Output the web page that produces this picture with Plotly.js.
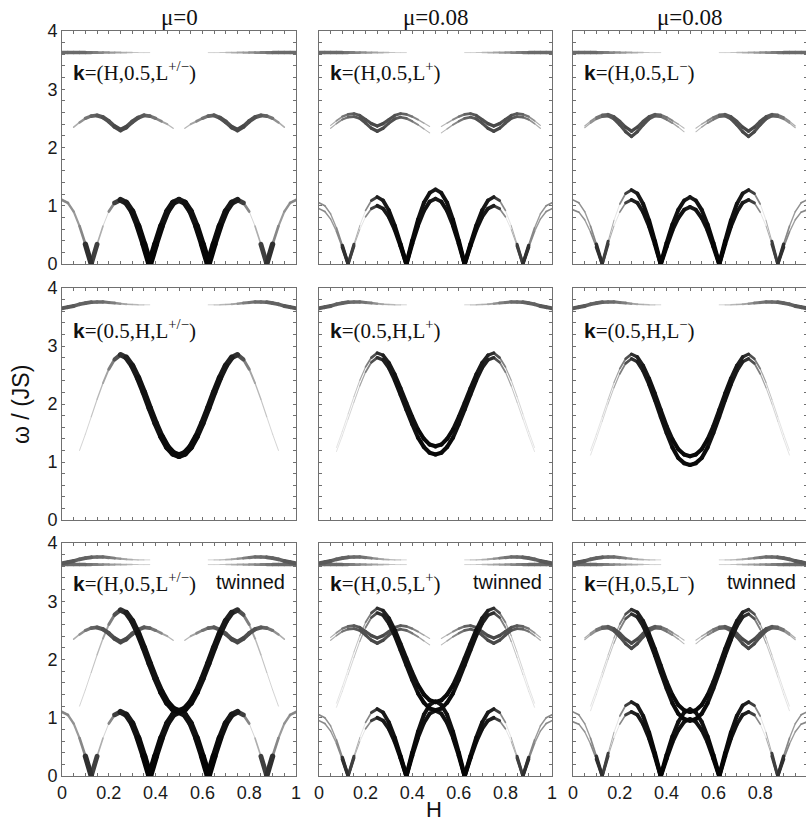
<!DOCTYPE html>
<html><head><meta charset="utf-8">
<script src="https://cdn.plot.ly/plotly-3.0.1.min.js"></script>
<style>
html,body{margin:0;padding:0;background:#fff;overflow:hidden;}
#chart{width:808px;height:827px;}
.js-line{stroke-linecap:round;stroke-linejoin:round;}
</style></head><body><div id="chart"></div><script>
// ---- data ----
const H = [0,0.025,0.05,0.075,0.1,0.125,0.15,0.175,0.2,0.225,0.25,0.275,0.3,0.325,0.35,0.375,0.4,0.425,0.45,0.475,0.5,0.525,0.55,0.575,0.6,0.625,0.65,0.675,0.7,0.725,0.75,0.775,0.8,0.825,0.85,0.875,0.9,0.925,0.95,0.975,1];

// k=(H,0.5,L) : top flat band
const wBand = [3.63,3.63,3.63,3.63,3.63,3.63,3.63,3.63,3.63,3.63,3.63,3.63,3.63,3.63,3.63,3.63,null,null,null,null,null,null,null,null,null,3.63,3.63,3.63,3.63,3.63,3.63,3.63,3.63,3.63,3.63,3.63,3.63,3.63,3.63,3.63,3.63];
const iBand = [0.45,0.45,0.45,0.43,0.41,0.38,0.35,0.31,0.27,0.23,0.18,0.14,0.1,0.07,0.04,0.02,0,0,0,0,0,0,0,0,0,0.02,0.04,0.07,0.1,0.14,0.18,0.23,0.27,0.31,0.35,0.38,0.41,0.43,0.45,0.45,0.45];
// middle wave
const wWave0 = [null,null,2.35,2.43,2.50,2.54,2.55,2.52,2.45,2.36,2.30,2.35,2.44,2.51,2.55,2.54,2.50,2.45,2.40,2.33,null,2.33,2.40,2.45,2.50,2.54,2.55,2.51,2.44,2.35,2.30,2.36,2.45,2.52,2.55,2.54,2.50,2.43,2.35,null,null];
const wWaveAp = [null,null,2.38,2.46,2.53,2.57,2.58,2.55,2.48,2.41,2.37,2.41,2.48,2.55,2.58,2.57,2.53,2.48,2.42,2.36,null,2.36,2.42,2.48,2.53,2.57,2.58,2.55,2.48,2.41,2.37,2.41,2.48,2.55,2.58,2.57,2.53,2.46,2.38,null,null];
const wWaveBp = [null,null,2.33,2.41,2.48,2.52,2.53,2.50,2.42,2.33,2.28,2.33,2.42,2.49,2.52,2.50,2.45,2.39,2.32,2.25,null,2.25,2.32,2.39,2.45,2.50,2.52,2.49,2.42,2.33,2.28,2.33,2.42,2.50,2.53,2.52,2.48,2.41,2.33,null,null];
const wWaveAm = [null,null,2.37,2.45,2.52,2.56,2.57,2.53,2.45,2.35,2.28,2.35,2.45,2.53,2.57,2.56,2.52,2.46,2.40,2.33,null,2.33,2.40,2.46,2.52,2.56,2.57,2.53,2.45,2.35,2.28,2.35,2.45,2.53,2.57,2.56,2.52,2.45,2.37,null,null];
const wWaveBm = [null,null,2.34,2.42,2.49,2.53,2.54,2.49,2.39,2.27,2.19,2.27,2.39,2.49,2.54,2.53,2.48,2.42,2.35,2.27,null,2.27,2.35,2.42,2.48,2.53,2.54,2.49,2.39,2.27,2.19,2.27,2.39,2.49,2.54,2.53,2.49,2.42,2.34,null,null];
const iWave = [0,0,0.08,0.2,0.35,0.45,0.52,0.55,0.57,0.58,0.6,0.58,0.57,0.55,0.52,0.45,0.35,0.25,0.15,0.06,0,0.06,0.15,0.25,0.35,0.45,0.52,0.55,0.57,0.58,0.6,0.58,0.57,0.55,0.52,0.45,0.35,0.2,0.08,0,0];
// low branch
const wLow0 = [1.10,1.05,0.90,0.65,0.34,0.00,0.34,0.65,0.90,1.05,1.10,1.05,0.90,0.65,0.34,0.00,0.34,0.65,0.90,1.05,1.10,1.05,0.90,0.65,0.34,0.00,0.34,0.65,0.90,1.05,1.10,1.05,0.90,0.65,0.34,0.00,0.34,0.65,0.90,1.05,1.10];
const wLowAp = [1.05,1.0,0.86,0.62,0.32,0.0,0.34,0.66,0.92,1.09,1.15,1.09,0.92,0.66,0.34,0.0,0.40,0.76,1.05,1.22,1.28,1.22,1.05,0.76,0.40,0.0,0.34,0.66,0.92,1.09,1.15,1.09,0.92,0.66,0.34,0.0,0.32,0.62,0.86,1.0,1.05];
const wLowBp = [0.95,0.9,0.77,0.56,0.29,0.0,0.31,0.59,0.81,0.95,1.0,0.95,0.81,0.59,0.31,0.0,0.35,0.66,0.91,1.07,1.12,1.07,0.91,0.66,0.35,0.0,0.31,0.59,0.81,0.95,1.0,0.95,0.81,0.59,0.31,0.0,0.29,0.56,0.77,0.9,0.95];
const wLowAm = [1.10,1.05,0.9,0.65,0.34,0.0,0.39,0.75,1.03,1.21,1.27,1.21,1.03,0.75,0.39,0.0,0.36,0.68,0.93,1.09,1.15,1.09,0.93,0.68,0.36,0.0,0.39,0.75,1.03,1.21,1.27,1.21,1.03,0.75,0.39,0.0,0.34,0.65,0.9,1.05,1.10];
const wLowBm = [0.93,0.89,0.76,0.55,0.29,0.0,0.34,0.65,0.89,1.05,1.1,1.05,0.89,0.65,0.34,0.0,0.30,0.58,0.79,0.93,0.98,0.93,0.79,0.58,0.30,0.0,0.34,0.65,0.89,1.05,1.1,1.05,0.89,0.65,0.34,0.0,0.29,0.55,0.76,0.89,0.93];
const iLow = [0.3,0.3,0.28,0.22,0.4,1,0.3,0,0.1,0.5,0.75,0.82,0.86,0.9,0.95,1,0.95,0.9,0.87,0.85,0.84,0.85,0.87,0.9,0.95,1,0.95,0.9,0.86,0.82,0.75,0.5,0.1,0,0.3,1,0.4,0.22,0.28,0.3,0.3];

// k=(0.5,H,L) : top wavy band
const wMband = [3.65,3.67,3.69,3.72,3.74,3.755,3.76,3.76,3.75,3.74,3.73,3.72,3.715,3.71,3.71,3.71,null,null,null,null,null,null,null,null,null,3.71,3.71,3.71,3.715,3.72,3.73,3.74,3.75,3.76,3.76,3.755,3.74,3.72,3.69,3.67,3.65];
const iMband = [0.5,0.5,0.5,0.49,0.48,0.46,0.44,0.41,0.37,0.31,0.24,0.17,0.12,0.08,0.05,0.02,0,0,0,0,0,0,0,0,0,0.02,0.05,0.08,0.12,0.17,0.24,0.31,0.37,0.41,0.44,0.46,0.48,0.49,0.5,0.5,0.5];
// main branch
const wMain0 = [null,null,null,1.2,1.48,1.78,2.08,2.36,2.6,2.77,2.85,2.8,2.66,2.45,2.2,1.93,1.67,1.44,1.26,1.15,1.11,1.15,1.26,1.44,1.67,1.93,2.2,2.45,2.66,2.8,2.85,2.77,2.6,2.36,2.08,1.78,1.48,1.2,null,null,null];
const wMainAp = [null,null,null,1.25,1.53,1.83,2.13,2.41,2.64,2.8,2.88,2.84,2.71,2.51,2.27,2.02,1.78,1.56,1.40,1.30,1.27,1.30,1.40,1.56,1.78,2.02,2.27,2.51,2.71,2.84,2.88,2.8,2.64,2.41,2.13,1.83,1.53,1.25,null,null,null];
const wMainBp = [null,null,null,1.18,1.45,1.74,2.03,2.31,2.55,2.72,2.8,2.76,2.62,2.41,2.16,1.90,1.65,1.42,1.26,1.16,1.13,1.16,1.26,1.42,1.65,1.90,2.16,2.41,2.62,2.76,2.8,2.72,2.55,2.31,2.03,1.74,1.45,1.18,null,null,null];
const wMainAm = [null,null,null,1.2,1.48,1.78,2.08,2.37,2.61,2.78,2.86,2.81,2.66,2.44,2.18,1.9,1.62,1.39,1.22,1.13,1.1,1.13,1.22,1.39,1.62,1.9,2.18,2.44,2.66,2.81,2.86,2.78,2.61,2.37,2.08,1.78,1.48,1.2,null,null,null];
const wMainBm = [null,null,null,1.12,1.4,1.7,2.0,2.28,2.52,2.7,2.78,2.73,2.57,2.34,2.07,1.78,1.5,1.25,1.07,0.98,0.95,0.98,1.07,1.25,1.5,1.78,2.07,2.34,2.57,2.73,2.78,2.7,2.52,2.28,2.0,1.7,1.4,1.12,null,null,null];
const iMain = [0,0,0,0.02,0.04,0.06,0.09,0.14,0.25,0.45,0.65,0.78,0.84,0.86,0.87,0.88,0.89,0.9,0.91,0.92,0.92,0.92,0.91,0.9,0.89,0.88,0.87,0.86,0.84,0.78,0.65,0.45,0.25,0.14,0.09,0.06,0.04,0.02,0,0,0];

const colTitles = ['μ=0','μ=0.08','μ=0.08'];
const supTexts = ['+/−','+','−'];

// ---- layout geometry ----
const W = 808, HT = 827;
const colsPx = [[62,296],[319,552],[573,807]];
const rowsPx = [[31,264],[288,520],[543,776]];
const px = x => x / W, py = y => 1 - y / HT;

// branches per column: [omega, intensity, widthScale]
const topRow = [
  [[wBand,iBand,1],[wWave0,iWave,1],[wLow0,iLow,1]],
  [[wBand,iBand,1],[wWaveAp,iWave,0.72],[wWaveBp,iWave,0.72],[wLowAp,iLow,0.62],[wLowBp,iLow,0.62]],
  [[wBand,iBand,1],[wWaveAm,iWave,0.72],[wWaveBm,iWave,0.72],[wLowAm,iLow,0.62],[wLowBm,iLow,0.62]]
];
const midRow = [
  [[wMband,iMband,1],[wMain0,iMain,1]],
  [[wMband,iMband,1],[wMainAp,iMain,0.62],[wMainBp,iMain,0.62]],
  [[wMband,iMband,1],[wMainAm,iMain,0.62],[wMainBm,iMain,0.62]]
];

const NL = 25;
const traces = [];
const layout = {
  width: W, height: HT, margin: {l:0,r:0,t:0,b:0},
  paper_bgcolor: '#fff', plot_bgcolor: '#fff', showlegend: false,
  annotations: []
};
const SANS = 'Liberation Sans, Arial, Helvetica, sans-serif';
const SERIF = 'Liberation Serif, Times New Roman, serif';
const AX = '#707070';

let p = 0;
for (let r = 0; r < 3; r++) {
  for (let c = 0; c < 3; c++) {
    p++;
    const xa = 'xaxis' + (p === 1 ? '' : p), ya = 'yaxis' + (p === 1 ? '' : p);
    const xr = 'x' + (p === 1 ? '' : p), yr = 'y' + (p === 1 ? '' : p);
    layout[xa] = {
      domain: [px(colsPx[c][0]), px(colsPx[c][1])], anchor: yr, range: [0,1],
      showgrid: false, zeroline: false, showline: true, linecolor: AX, linewidth: 1, mirror: 'ticks',
      ticks: 'inside', ticklen: 3, tickcolor: AX, tick0: 0, dtick: 0.2,
      minor: {dtick: 0.05, ticks: 'inside', ticklen: 3, tickcolor: AX, showgrid: false},
      showticklabels: r === 2, tickfont: {family: SANS, size: 18, color: '#1a1a1a'}, fixedrange: true
    };
    layout[ya] = {
      domain: [py(rowsPx[r][1]), py(rowsPx[r][0])], anchor: xr, range: [0,4],
      showgrid: false, zeroline: false, showline: true, linecolor: AX, linewidth: 1, mirror: 'ticks',
      ticks: 'inside', ticklen: 3, tickcolor: AX, tick0: 0, dtick: 1,
      minor: {dtick: 0.2, ticks: 'inside', ticklen: 3, tickcolor: AX, showgrid: false},
      showticklabels: c === 0, tickfont: {family: SANS, size: 18, color: '#1a1a1a'}, fixedrange: true
    };
    const branches = r === 0 ? topRow[c] : r === 1 ? midRow[c] : topRow[c].concat(midRow[c]);
    const buckets = {};
    branches.forEach(([ws, is, sc]) => {
      for (let i = 0; i < H.length - 1; i++) {
        if (ws[i] == null || ws[i+1] == null) continue;
        const q = Math.round((is[i] + is[i+1]) / 2 * NL);
        if (q < 1) continue;
        const key = q + '|' + sc;
        if (!buckets[key]) buckets[key] = {q, sc, x: [], y: []};
        buckets[key].x.push(H[i], H[i+1], null);
        buckets[key].y.push(ws[i], ws[i+1], null);
      }
    });
    Object.values(buckets).sort((a,b) => a.q - b.q || b.sc - a.sc).forEach(b => {
      const I = b.q / NL;
      const g = Math.round(215 * Math.pow(1 - I, 1.2));
      traces.push({
        type: 'scatter', mode: 'lines', x: b.x, y: b.y, xaxis: xr, yaxis: yr,
        line: {color: `rgb(${g},${g},${g})`, width: (0.6 + 6.6 * I) * b.sc},
        hoverinfo: 'skip', showlegend: false, connectgaps: false
      });
    });
    // panel label
    const kTxt = '<span style="font-family:' + SANS + '"><b>k</b></span>=(' + (r === 1 ? '0.5,H' : 'H,0.5') + ',L<sup>' + supTexts[c] + '</sup>)';
    layout.annotations.push({
      xref: 'paper', yref: 'paper', x: px(colsPx[c][0] + 9), y: py(rowsPx[r][0] + (r === 2 ? 39 : 41)),
      xanchor: 'left', yanchor: 'middle', showarrow: false, text: kTxt,
      font: {family: SERIF, size: 21, color: '#111'}
    });
    if (r === 2) {
      layout.annotations.push({
        xref: 'paper', yref: 'paper', x: px(colsPx[c][0] + 225), y: py(rowsPx[r][0] + 39),
        xanchor: 'right', yanchor: 'middle', showarrow: false, text: 'twinned',
        font: {family: SANS, size: 20, color: '#111'}
      });
    }
  }
}
colTitles.forEach((t, c) => {
  layout.annotations.push({
    xref: 'paper', yref: 'paper', x: px((colsPx[c][0] + colsPx[c][1]) / 2), y: py(17),
    xanchor: 'center', yanchor: 'middle', showarrow: false, text: t,
    font: {family: SERIF, size: 23, color: '#111'}
  });
});
layout.annotations.push({
  xref: 'paper', yref: 'paper', x: px(434), y: py(809), xanchor: 'center', yanchor: 'middle',
  showarrow: false, text: 'H', font: {family: SANS, size: 22, color: '#111'}
});
layout.annotations.push({
  xref: 'paper', yref: 'paper', x: px(21), y: py(405), xanchor: 'center', yanchor: 'middle',
  showarrow: false, text: 'ω / (JS)', textangle: -90, font: {family: SANS, size: 23, color: '#111'}
});

Plotly.newPlot('chart', traces, layout, {staticPlot: true, displayModeBar: false}).then(() => {
  document.querySelectorAll('#chart text').forEach(t => { if (!t.textContent.trim()) t.remove(); });
});
</script></body></html>
